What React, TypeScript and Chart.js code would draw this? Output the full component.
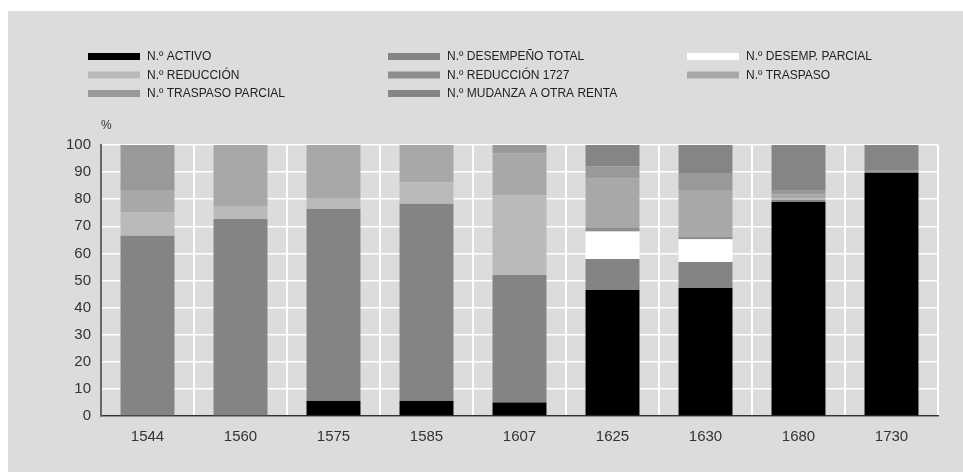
import React, { useEffect, useRef } from "react";
import { Chart, registerables } from "chart.js";

Chart.register(...registerables);

const categories = ["1544", "1560", "1575", "1585", "1607", "1625", "1630", "1680", "1730"];

const seriesNames = [
  "N.º ACTIVO",
  "N.º DESEMPEÑO TOTAL",
  "N.º DESEMP. PARCIAL",
  "N.º REDUCCIÓN",
  "N.º REDUCCIÓN 1727",
  "N.º TRASPASO",
  "N.º TRASPASO PARCIAL",
  "N.º MUDANZA A OTRA RENTA",
];

const activo = [0, 0, 5.5, 5.5, 5.0, 46.5, 47.2, 79.0, 89.8];
const desempenoTotal = [66.5, 72.7, 70.9, 72.8, 47.0, 11.4, 9.6, 0.7, 0];
const desempParcial = [0, 0, 0, 0, 0, 10.2, 8.4, 0, 0];
const reduccion = [8.8, 4.8, 4.0, 8.0, 29.5, 0, 0, 0.5, 0];
const reduccion1727 = [0, 0, 0, 0, 0, 1.3, 0.9, 0, 0];
const traspaso = [8.1, 22.5, 19.6, 13.7, 15.5, 18.3, 17.3, 1.6, 0];
const traspasoParcial = [16.6, 0, 0, 0, 3.0, 4.5, 6.3, 1.6, 1.0];
const mudanza = [0, 0, 0, 0, 0, 7.8, 10.3, 16.6, 9.2];

const yTicks = [0, 10, 20, 30, 40, 50, 60, 70, 80, 90, 100];

const colors = ["#000000", "#848484", "#ffffff", "#bababa", "#8e8e8e", "#a8a8a8", "#999999", "#858585"];

const FONT = "'Liberation Sans', Arial, sans-serif";

const legendPlugin = {
  id: "gridLegend",
  afterDraw(chart: any) {
    const ctx = chart.ctx;
    const cols = [80, 380, 679];
    const rows = [45.5, 64, 82.5];
    ctx.save();
    chart.data.datasets.forEach((ds: any, i: number) => {
      const col = i % 3;
      const row = Math.floor(i / 3);
      const x = cols[col];
      const y = rows[row];
      ctx.fillStyle = ds.backgroundColor;
      ctx.fillRect(x, y - 3.5, 52, 7);
      ctx.fillStyle = "#222";
      ctx.font = "12px " + FONT;
      ctx.textBaseline = "middle";
      ctx.textAlign = "left";
      ctx.fillText(ds.label, x + 59, y + 0.5);
    });
    const area = chart.chartArea;
    ctx.font = "12px " + FONT;
    ctx.fillStyle = "#333";
    ctx.textBaseline = "middle";
    ctx.fillText("%", area.left, area.top - 19);
    ctx.restore();
  },
};

export default function App() {
  const ref = useRef<HTMLCanvasElement | null>(null);
  useEffect(() => {
    if (!ref.current) return;
    const series = [activo, desempenoTotal, desempParcial, reduccion, reduccion1727, traspaso, traspasoParcial, mudanza];
    const chart = new Chart(ref.current, {
      type: "bar",
      data: {
        labels: categories,
        datasets: series.map((d, i) => ({
          label: seriesNames[i],
          data: d,
          backgroundColor: colors[i],
          borderWidth: 0,
          categoryPercentage: 1,
          barPercentage: 0.58,
        })),
      },
      options: {
        animation: false,
        responsive: true,
        maintainAspectRatio: false,
        layout: { padding: { left: 53, right: 25, top: 134, bottom: 16 } },
        plugins: { legend: { display: false }, tooltip: { enabled: false } },
        scales: {
          x: {
            stacked: true,
            grid: { color: "#ffffff", lineWidth: 2, drawTicks: false, offset: true },
            border: { color: "#333333", width: 1.5 },
            ticks: { color: "#333", font: { family: FONT, size: 15 }, padding: 12 },
            afterFit(scale: any) {
              scale.height = 40;
            },
          },
          y: {
            stacked: true,
            min: 0,
            max: 100,
            afterBuildTicks(scale: any) {
              scale.ticks = yTicks.map((v) => ({ value: v }));
            },
            grid: { color: "#ffffff", lineWidth: 1.5, drawTicks: false },
            border: { color: "#666666", width: 2 },
            ticks: { color: "#333", font: { family: FONT, size: 15 }, padding: 10 },
            afterFit(scale: any) {
              scale.width = 40;
            },
          },
        },
      },
      plugins: [legendPlugin],
    } as any);
    return () => chart.destroy();
  }, []);
  return (
    <div style={{ position: "absolute", left: 8, top: 11, width: 955, height: 461, background: "#dcdcdc" }}>
      <canvas ref={ref} />
    </div>
  );
}
